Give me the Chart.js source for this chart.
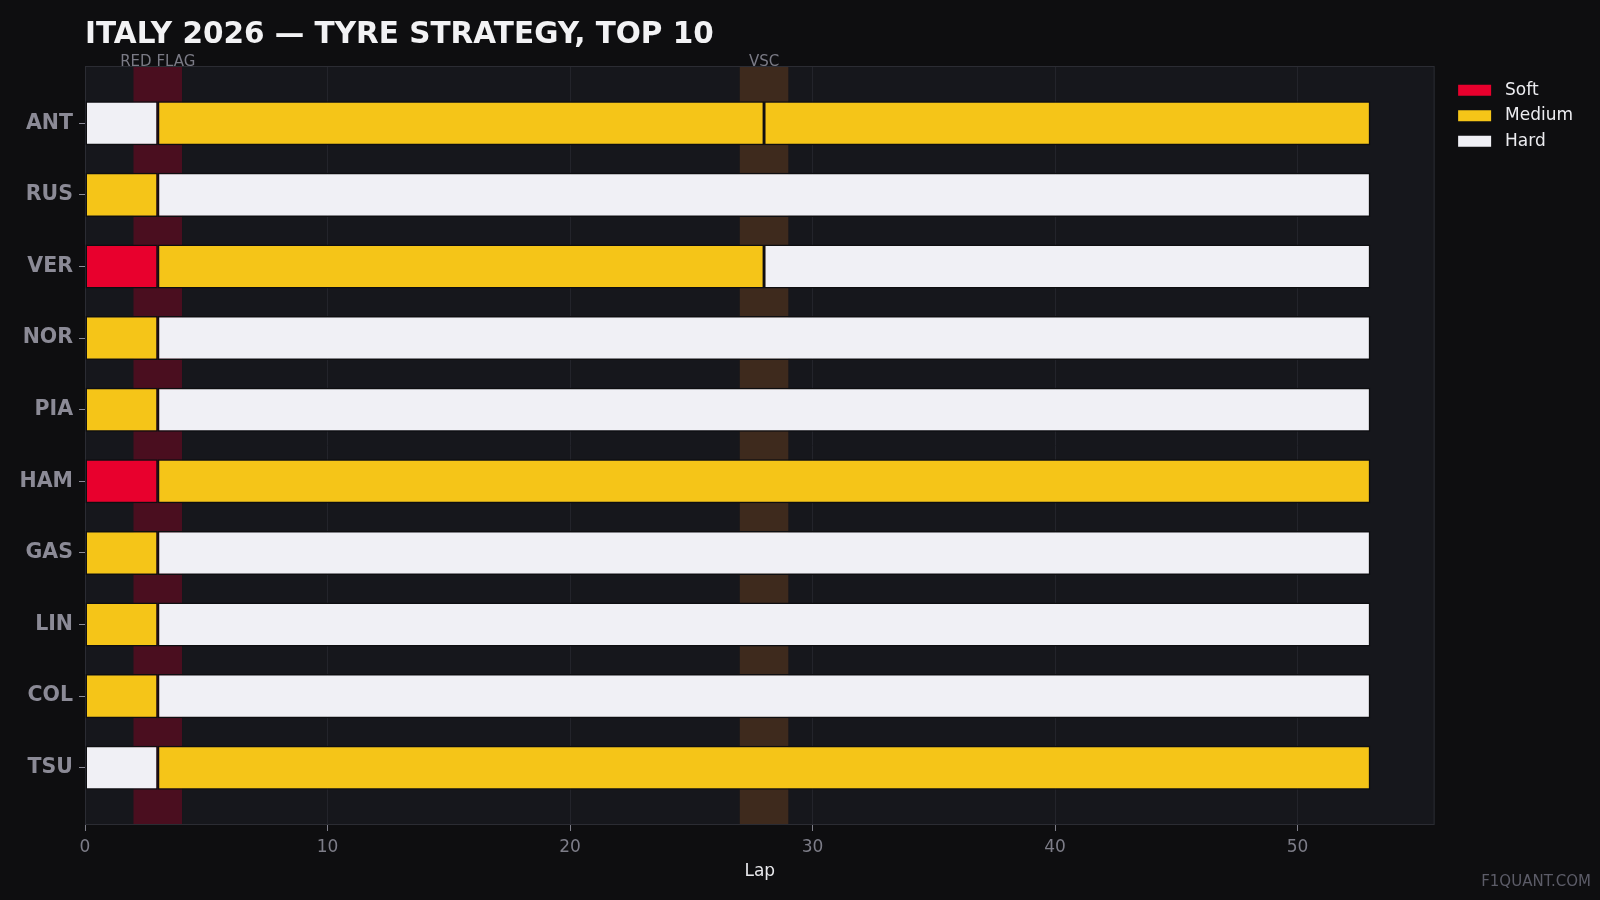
<!DOCTYPE html>
<html>
<head>
<meta charset="utf-8">
<title>Italy 2026 tyre strategy</title>
<script src="https://cdn.jsdelivr.net/npm/chart.js@4.4.1/dist/chart.umd.min.js"></script>
<style>
  html, body { margin: 0; padding: 0; background: #0e0e10; }
  canvas { display: block; }
</style>
</head>
<body>
<canvas id="strategyChart" width="1600" height="900"></canvas>
<script>
const drivers = ['ANT', 'RUS', 'VER', 'NOR', 'PIA', 'HAM', 'GAS', 'LIN', 'COL', 'TSU'];
const compounds = ['Soft', 'Medium', 'Hard'];
// compound of each stint, per driver
const stintCompounds = [
    ['Hard', 'Medium', 'Medium'],
    ['Medium', 'Hard'],
    ['Soft', 'Medium', 'Hard'],
    ['Medium', 'Hard'],
    ['Medium', 'Hard'],
    ['Soft', 'Medium'],
    ['Medium', 'Hard'],
    ['Medium', 'Hard'],
    ['Medium', 'Hard'],
    ['Hard', 'Medium']
];
const pitLaps = [[3, 28], [3], [3, 28], [3], [3], [3], [3], [3], [3], [3]];
const raceLaps = 53;
const lapTicks = [0, 10, 20, 30, 40, 50];
const eventNames = ['RED FLAG', 'VSC'];
const eventStart = [2, 27];
const eventEnd = [4, 29];

const compoundColors = { Soft: '#e8002d', Medium: '#f5c518', Hard: '#f0f0f5' };
const eventColors = ['#4a0e1f', '#3e2a1d'];
const FONT = "'DejaVu Sans', sans-serif";

// build floating bars: one dataset per compound
const stintData = { Soft: [], Medium: [], Hard: [] };
drivers.forEach((d, i) => {
    const bounds = [0, ...pitLaps[i], raceLaps];
    stintCompounds[i].forEach((c, k) => {
        stintData[c].push({ x: [bounds[k], bounds[k + 1]], y: i });
    });
});

const backdrop = {
    id: 'backdrop',
    beforeDraw(chart) {
        const { ctx, chartArea: a } = chart;
        ctx.save();
        ctx.fillStyle = '#0e0e10';
        ctx.fillRect(0, 0, chart.width, chart.height);
        ctx.fillStyle = '#16171c';
        ctx.fillRect(a.left, a.top, a.right - a.left, a.bottom - a.top);
        ctx.restore();
    },
    beforeDatasetsDraw(chart) {
        const { ctx, chartArea: a, scales: { x } } = chart;
        ctx.save();
        eventNames.forEach((name, i) => {
            const x0 = x.getPixelForValue(eventStart[i]);
            const x1 = x.getPixelForValue(eventEnd[i]);
            ctx.fillStyle = eventColors[i];
            ctx.fillRect(x0, a.top, x1 - x0, a.bottom - a.top);
            ctx.fillStyle = '#7a7a85';
            ctx.font = '15px ' + FONT;
            ctx.textAlign = 'center';
            ctx.textBaseline = 'middle';
            ctx.fillText(name, (x0 + x1) / 2, a.top - 4);
        });
        ctx.strokeStyle = '#2b2c33';
        ctx.lineWidth = 1;
        ctx.strokeRect(a.left + 0.5, a.top + 0.5, a.right - a.left - 1, a.bottom - a.top - 1);
        ctx.restore();
    },
    afterDraw(chart) {
        const ctx = chart.ctx;
        ctx.save();
        ctx.fillStyle = '#5c5c68';
        ctx.font = '15px ' + FONT;
        ctx.textAlign = 'right';
        ctx.textBaseline = 'middle';
        ctx.fillText('F1QUANT.COM', chart.width - 9, chart.height - 18);
        ctx.restore();
    }
};

new Chart(document.getElementById('strategyChart').getContext('2d'), {
    type: 'bar',
    data: {
        datasets: compounds.map(c => ({
            label: c,
            data: stintData[c],
            yAxisID: 'y',
            xAxisID: 'x',
            backgroundColor: compoundColors[c],
            borderColor: '#0e0e10',
            borderWidth: 1.5,
            borderSkipped: false,
            grouped: false,
            categoryPercentage: 1,
            barPercentage: 0.615
        }))
    },
    options: {
        indexAxis: 'y',
        responsive: false,
        devicePixelRatio: 1,
        animation: false,
        layout: { padding: { left: 0, right: 17, top: 0, bottom: 17 } },
        scales: {
            x: {
                type: 'linear',
                min: 0,
                max: raceLaps * 1.05,
                afterBuildTicks: s => { s.ticks = lapTicks.map(v => ({ value: v })); },
                afterFit: s => { s.height = 58; },
                grid: { color: '#23242b', tickColor: '#7d7d88', tickLength: 6 },
                border: { display: false },
                ticks: { color: '#7d7d88', font: { family: FONT, size: 17 }, padding: 6 },
                title: {
                    display: true, text: 'Lap', color: '#e8e8ec',
                    font: { family: FONT, size: 17 }, padding: { top: 2, bottom: 1 }
                }
            },
            y: {
                type: 'linear',
                reverse: true,
                min: -0.8,
                max: drivers.length - 0.2,
                offset: false,
                afterBuildTicks: s => { s.ticks = drivers.map((d, i) => ({ value: i })); },
                afterFit: s => { s.width = 85; },
                grid: { drawOnChartArea: false, offset: false, color: 'transparent', tickColor: '#8b8a96', tickLength: 6 },
                border: { display: false },
                ticks: {
                    color: '#8b8a96',
                    font: { family: FONT, size: 20.5, weight: 'bold' },
                    padding: 6,
                    callback: v => drivers[v]
                }
            },
            gap: {
                type: 'linear',
                position: 'right',
                display: true,
                grid: { display: false },
                border: { display: false },
                ticks: { display: false },
                afterFit: s => { s.width = 15; }
            }
        },
        plugins: {
            title: {
                display: true,
                text: 'ITALY 2026 — TYRE STRATEGY, TOP 10',
                align: 'start',
                fullSize: false,
                color: '#f2f2f4',
                font: { family: FONT, size: 29.5, weight: 'bold' },
                padding: { top: 18, bottom: 12.6 }
            },
            legend: {
                position: 'right',
                align: 'start',
                fullSize: false,
                title: { display: true, text: '', padding: 0, font: { size: 6 } },
                labels: {
                    color: '#ececf0',
                    font: { family: FONT, size: 17 },
                    boxWidth: 33,
                    boxHeight: 11,
                    padding: 8.5,
                    generateLabels: chart => chart.data.datasets.map((ds, i) => ({
                        text: ' ' + ds.label,
                        fillStyle: ds.backgroundColor,
                        strokeStyle: ds.backgroundColor,
                        lineWidth: 0,
                        fontColor: '#ececf0',
                        hidden: false,
                        datasetIndex: i
                    }))
                }
            },
            tooltip: { enabled: false }
        }
    },
    plugins: [backdrop]
});
</script>
</body>
</html>
